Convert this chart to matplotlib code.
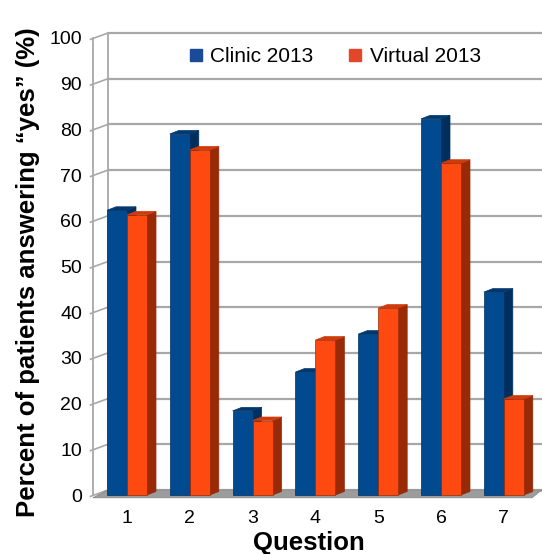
import numpy as np
import matplotlib
matplotlib.use("Agg")
import matplotlib.pyplot as plt
from matplotlib.patches import Polygon, Rectangle
from matplotlib.lines import Line2D

plt.rcParams['font.family'] = ['Liberation Sans', 'DejaVu Sans']

questions = ['1', '2', '3', '4', '5', '6', '7']
clinic_2013 = [62.3, 79.0, 18.4, 26.9, 35.2, 82.3, 44.4]
virtual_2013 = [61.3, 75.5, 16.3, 33.9, 40.9, 72.6, 21.0]
y_ticks = [0, 10, 20, 30, 40, 50, 60, 70, 80, 90, 100]

# colours: front, side, top
clinic_cols = ('#014a8f', '#002f5e', '#013870')
virtual_cols = ('#fe4a10', '#992a08', '#cf3b0c')

fig = plt.figure(figsize=(5.42, 5.54), dpi=100)
W, H = 542.0, 554.0
# front plane: x px 93..542, y px 495 (0) .. 38 (100)
ax = fig.add_axes([93 / W, (H - 495) / H, 449 / W, 457 / H])
x0 = 1 - 34 / 62.8
x1 = x0 + 449 / 62.8
ax.set_xlim(x0, x1)
ax.set_ylim(0, 100)
for s in ax.spines.values():
    s.set_visible(False)

# perspective offsets (data units)
dx = 15 / 62.8
dy = 5 / 4.57
sdx = 9 / 62.8
sdy = 3.5 / 4.57
bw = 20 / 62.8
grid_c = '#a8a8a8'

# back wall gridlines and border
for v in y_ticks:
    ax.plot([x0 + dx, x1 + 0.2], [v + dy, v + dy], color=grid_c, lw=1.6,
            clip_on=False, zorder=1, solid_capstyle='butt')
    # slanted ticks on the side wall
    ax.plot([x0 - 0.04, x0 + dx], [v - 0.3, v + dy], color=grid_c, lw=1.2,
            clip_on=False, zorder=1)
ax.plot([x0 + dx, x0 + dx], [dy, 100 + dy], color=grid_c, lw=1.3, clip_on=False, zorder=1)
ax.plot([x0, x0], [0, 100], color=grid_c, lw=1.3, clip_on=False, zorder=1)

# floor
fx_right = x0 + 439 / 62.8
floor = Polygon([(x0, -0.6), (fx_right, -0.6), (fx_right + 0.13, 0.5 + dy * 0.3),
                 (x0 + dx + 7.5, dy), (x0 + dx, dy)],
                closed=True, facecolor='#9c9c9c', edgecolor='#8a8a8a', lw=0.6,
                clip_on=False, zorder=2)
ax.add_patch(floor)


def draw_bar(xl, v, cols):
    front, side, top = cols
    ax.add_patch(Polygon([(xl + bw, 0), (xl + bw + sdx, sdy), (xl + bw + sdx, v + sdy),
                          (xl + bw, v)], closed=True, facecolor=side,
                         edgecolor=side, lw=0.5, zorder=3, clip_on=False))
    ax.add_patch(Polygon([(xl, v), (xl + bw, v), (xl + bw + sdx, v + sdy),
                          (xl + sdx, v + sdy)], closed=True, facecolor=top,
                         edgecolor=top, lw=0.5, zorder=3, clip_on=False))
    ax.add_patch(Rectangle((xl, 0), bw, v, facecolor=front, edgecolor=side,
                           lw=0.5, zorder=3, clip_on=False))


pos = np.arange(1, len(questions) + 1)
for i, c in enumerate(pos):
    draw_bar(c - bw, clinic_2013[i], clinic_cols)
    draw_bar(c, virtual_2013[i], virtual_cols)

ax.set_xticks(pos)
ax.set_xticklabels(questions, fontsize=14)
ax.set_yticks(y_ticks)
ax.set_yticklabels([str(v) for v in y_ticks], fontsize=14)
ax.tick_params(axis='x', length=0, pad=11)
ax.tick_params(axis='y', length=0, pad=8)

fig.text(28 / W, 1 - 272 / H, 'Percent of patients answering \u201cyes\u201d (%)',
         rotation=90, ha='center', va='center', fontsize=18.5, fontweight='bold')
fig.text(309 / W, 1 - 543 / H, 'Question', ha='center', va='center',
         fontsize=18.5, fontweight='bold')

handles = [Line2D([], [], marker='s', ls='', color='#1a4a98', markersize=9),
           Line2D([], [], marker='s', ls='', color='#e4462a', markersize=9)]
fig.legend(handles, ['Clinic 2013', 'Virtual 2013'], loc='center',
           bbox_to_anchor=(334 / W, 1 - 57 / H), ncol=2, frameon=False,
           fontsize=15, handletextpad=0.3, columnspacing=1.6, handlelength=0.8)

fig.savefig('out.png', dpi=100)
